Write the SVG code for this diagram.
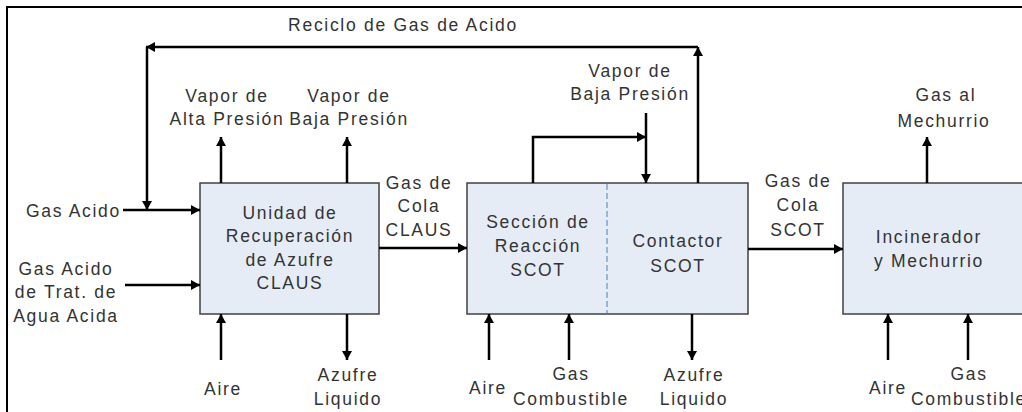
<svg xmlns="http://www.w3.org/2000/svg" width="1022" height="412" viewBox="0 0 1022 412">
<defs>
<style>
.t{font-family:"Liberation Sans",Arial,sans-serif;font-size:17.5px;letter-spacing:1.7px;fill:#333;text-anchor:middle}
.e{text-anchor:end}
.box{fill:#e6ecf6;stroke:#404040;stroke-width:1.5}
.ln{fill:none;stroke:#000;stroke-width:2.5}
.frame{fill:none;stroke:#000;stroke-width:2}
</style>
<marker id="ah" markerUnits="userSpaceOnUse" markerWidth="9" markerHeight="10" refX="9" refY="5" orient="auto" viewBox="0 0 9 10">
<path d="M0,0 L9,5 L0,10 z" fill="#000"/>
</marker>
</defs>
<rect width="1022" height="412" fill="#fff"/>
<polyline class="frame" points="7,412 7,7 1022,7"/>

<g id="claus">
<rect class="box" x="200" y="183" width="179" height="131"/>
<text class="t" x="290" y="219">Unidad de</text>
<text class="t" x="290" y="242">Recuperación</text>
<text class="t" x="290" y="265.5">de Azufre</text>
<text class="t" x="290" y="289">CLAUS</text>
</g>

<g id="scot">
<rect class="box" x="467" y="183" width="281" height="131"/>
<line x1="607" y1="184" x2="607" y2="313" stroke="#7fa2d8" stroke-width="1.5" stroke-dasharray="6,3"/>
<text class="t" x="538" y="228">Sección de</text>
<text class="t" x="538" y="252">Reacción</text>
<text class="t" x="538" y="276">SCOT</text>
<text class="t" x="678" y="247">Contactor</text>
<text class="t" x="678" y="272">SCOT</text>
</g>

<g id="incinerador">
<rect class="box" x="843" y="183" width="182" height="131"/>
<text class="t" x="929" y="242.5">Incinerador</text>
<text class="t" x="929" y="266.5">y Mechurrio</text>
</g>

<g id="connectors">
<polyline class="ln" points="698,183 698,47" marker-end="url(#ah)"/>
<line class="ln" x1="698" y1="47" x2="146" y2="47" marker-end="url(#ah)"/>
<line class="ln" x1="147" y1="47" x2="147" y2="210" marker-end="url(#ah)"/>
<line class="ln" x1="123" y1="210" x2="200" y2="210" marker-end="url(#ah)"/>
<line class="ln" x1="125" y1="285" x2="200" y2="285" marker-end="url(#ah)"/>
<line class="ln" x1="221" y1="183" x2="221" y2="137" marker-end="url(#ah)"/>
<line class="ln" x1="347" y1="183" x2="347" y2="137" marker-end="url(#ah)"/>
<line class="ln" x1="221" y1="360" x2="221" y2="314" marker-end="url(#ah)"/>
<line class="ln" x1="347" y1="314" x2="347" y2="360" marker-end="url(#ah)"/>
<line class="ln" x1="379" y1="248" x2="467" y2="248" marker-end="url(#ah)"/>
<polyline class="ln" points="533,183 533,137 646,137" marker-end="url(#ah)"/>
<line class="ln" x1="646" y1="113" x2="646" y2="183" marker-end="url(#ah)"/>
<line class="ln" x1="489" y1="360" x2="489" y2="314" marker-end="url(#ah)"/>
<line class="ln" x1="569" y1="360" x2="569" y2="314" marker-end="url(#ah)"/>
<line class="ln" x1="692" y1="314" x2="692" y2="360" marker-end="url(#ah)"/>
<line class="ln" x1="748" y1="249" x2="843" y2="249" marker-end="url(#ah)"/>
<line class="ln" x1="927" y1="183" x2="927" y2="137" marker-end="url(#ah)"/>
<line class="ln" x1="888" y1="360" x2="888" y2="314" marker-end="url(#ah)"/>
<line class="ln" x1="968" y1="360" x2="968" y2="314" marker-end="url(#ah)"/>
</g>

<g id="labels">
<text class="t" x="403" y="31">Reciclo de Gas de Acido</text>
<text class="t e" x="121" y="216.5">Gas Acido</text>
<text class="t" x="66" y="275">Gas Acido</text>
<text class="t" x="66" y="298">de Trat. de</text>
<text class="t" x="66" y="322">Agua Acida</text>
<text class="t" x="227" y="102">Vapor de</text>
<text class="t" x="227" y="125">Alta Presión</text>
<text class="t" x="349" y="102">Vapor de</text>
<text class="t" x="349" y="125">Baja Presión</text>
<text class="t" x="419" y="188.5">Gas de</text>
<text class="t" x="419" y="212">Cola</text>
<text class="t" x="419" y="236">CLAUS</text>
<text class="t" x="630" y="77">Vapor de</text>
<text class="t" x="630" y="100">Baja Presión</text>
<text class="t" x="798" y="187">Gas de</text>
<text class="t" x="798" y="211">Cola</text>
<text class="t" x="798" y="236">SCOT</text>
<text class="t" x="946" y="101">Gas al</text>
<text class="t" x="944" y="126.5">Mechurrio</text>
<text class="t" x="223" y="395">Aire</text>
<text class="t" x="348" y="381">Azufre</text>
<text class="t" x="348" y="405">Liquido</text>
<text class="t" x="488" y="394">Aire</text>
<text class="t" x="571" y="380">Gas</text>
<text class="t" x="571" y="405">Combustible</text>
<text class="t" x="694" y="381">Azufre</text>
<text class="t" x="694" y="405">Liquido</text>
<text class="t" x="888" y="394">Aire</text>
<text class="t" x="969" y="380">Gas</text>
<text class="t" x="969" y="405">Combustible</text>
</g>
</svg>
